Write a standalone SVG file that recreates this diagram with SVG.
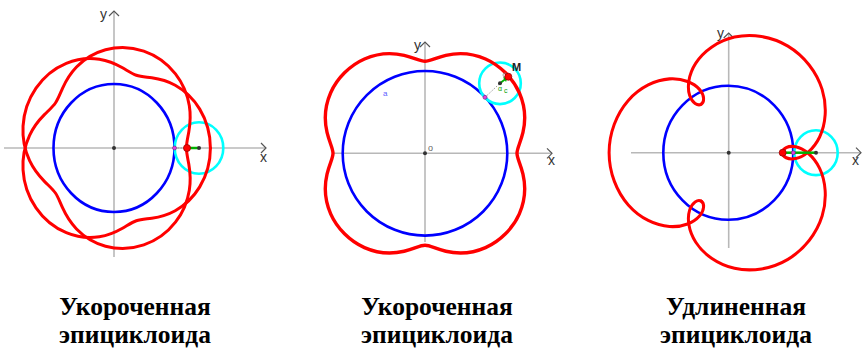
<svg xmlns="http://www.w3.org/2000/svg" width="863" height="350" viewBox="0 0 863 350">
<style>
.red{fill:none;stroke:#ff0000;stroke-width:3;stroke-linejoin:round;stroke-linecap:round}
.blue{fill:none;stroke:#0000ff;stroke-width:2.6}
.cyan{fill:none;stroke:#00ffff;stroke-width:2.6}
.axis{stroke:#b8b8b8;stroke-width:1.6}
.arr{fill:none;stroke:#555;stroke-width:1.2}
.lbl{font-family:"Liberation Sans",Arial,sans-serif;font-size:14px;fill:#333}
.dot{fill:#333}
.mag{fill:#e040e0;stroke:#702070;stroke-width:0.6}
.m{fill:#ff0000;stroke:#900;stroke-width:0.8}
.grn{stroke:#00b000;stroke-width:2.5}
.dash{stroke:#999;stroke-width:1;stroke-dasharray:1.5 1.5}
.title{font-family:"Liberation Serif","Times New Roman",serif;font-weight:bold;font-size:25.5px;fill:#000;text-anchor:middle}
</style>
<defs>
<path id="p1" class="red" d="M186.4,148 C186.4,143.31 187.63,138.5 188.82,131.73 C190.01,124.96 190.97,116.12 189.33,105.83 C187.69,95.54 183.3,83.92 175.46,73.84 C167.62,63.76 156.38,55.41 143.79,51.09 C131.2,46.77 117.47,46.53 105.52,49.82 C93.57,53.11 83.56,59.77 76.51,67.08 C69.46,74.39 65.32,82.13 62.51,88.35 C59.7,94.57 58.04,99.21 55.43,103.01 C52.82,106.81 49.15,109.93 44.42,114.67 C39.69,119.41 34,125.98 29.6,135.32 C25.2,144.66 22.31,156.78 23.04,169.81 C23.77,182.84 28.23,196.57 36.01,207.89 C43.79,219.21 54.78,227.94 66.27,232.7 C77.76,237.46 89.56,238.3 99.33,236.77 C109.1,235.24 116.76,231.53 122.49,228.24 C128.22,224.95 132.15,222.23 136.37,220.78 C140.59,219.33 145.3,219.08 151.76,218.18 C158.22,217.28 166.48,215.53 175.23,210.7 C183.98,205.87 193.07,197.87 199.72,186.87 C206.37,175.87 210.4,161.99 210.4,148"/>
<path id="p3" class="red" d="M54.2,0 C54.2,3.78 59.63,7.35 67.5,5.71 C75.37,4.07 85.29,-2.98 91.33,-15.2 C97.37,-27.43 99.16,-44.61 93.81,-61.31 C88.46,-78.01 75.98,-93.77 59.6,-103.23 C43.22,-112.69 23.32,-115.61 6.19,-111.9 C-10.94,-108.19 -24.93,-98.05 -32.5,-86.7 C-40.07,-75.36 -41.21,-63.23 -38.69,-55.6 C-36.17,-47.97 -30.37,-45.04 -27.1,-46.93"/>
</defs>

<g id="panel1">
  <line class="axis" x1="4" y1="148" x2="266" y2="148"/>
  <line class="axis" x1="114" y1="11" x2="114" y2="257"/>
  <polyline class="arr" points="261,143 266,148 261,153"/>
  <polyline class="arr" points="109,16 114,11 119,16"/>
  <text class="lbl" x="260" y="162">x</text>
  <text class="lbl" x="100" y="19">y</text>
  <ellipse class="blue" cx="114" cy="148" rx="60.5" ry="64"/>
  <ellipse class="cyan" cx="199" cy="148" rx="24.3" ry="25.7"/>
  <use href="#p1"/>
  <use href="#p1" transform="matrix(1 0 0 -1 0 296)"/>
  <line class="dash" x1="174.5" y1="148" x2="186.5" y2="148"/>
  <line class="grn" x1="187" y1="148" x2="199" y2="148"/>
  <circle class="dot" cx="114" cy="148" r="2"/>
  <circle class="dot" cx="199" cy="148" r="2"/>
  <circle class="mag" cx="174.5" cy="148" r="2"/>
  <circle class="m" cx="187" cy="148" r="3.5"/>
</g>

<g id="panel2">
  <line class="axis" x1="333" y1="153.3" x2="552" y2="153.3"/>
  <line class="axis" x1="425" y1="42" x2="425" y2="242"/>
  <polyline class="arr" points="547,148.3 552,153.3 547,158.3"/>
  <polyline class="arr" points="420,47 425,42 430,47"/>
  <text class="lbl" x="548" y="165">x</text>
  <text class="lbl" x="414" y="50">y</text>
  <text x="428" y="151" font-family="Liberation Sans,Arial,sans-serif" font-size="9" fill="#666">o</text>
  <text x="383" y="96" font-family="Liberation Sans,Arial,sans-serif" font-size="8" fill="#6060ff">a</text>
  <circle class="blue" cx="425" cy="153.3" r="82.3"/>
  <circle class="cyan" cx="500" cy="83.3" r="20.8"/>
  <g transform="translate(425,153.3)">
    <path class="red" style="stroke-width:3.4" d="M92,0 C92,-5.03 95.53,-10.57 97.96,-20.83 C100.39,-31.09 100.67,-46.05 94.33,-60.54 C87.99,-75.03 75.03,-87.99 60.54,-94.33 C46.05,-100.67 31.09,-100.39 20.83,-97.96 C10.57,-95.53 5.03,-92 0,-92 C-5.03,-92 -10.57,-95.53 -20.83,-97.96 C-31.09,-100.39 -46.05,-100.67 -60.54,-94.33 C-75.03,-87.99 -87.99,-75.03 -94.33,-60.54 C-100.67,-46.05 -100.39,-31.09 -97.96,-20.83 C-95.53,-10.57 -92,-5.03 -92,0 C-92,5.03 -95.53,10.57 -97.96,20.83 C-100.39,31.09 -100.67,46.05 -94.33,60.54 C-87.99,75.03 -75.03,87.99 -60.54,94.33 C-46.05,100.67 -31.09,100.39 -20.83,97.96 C-10.57,95.53 -5.03,92 0,92 C5.03,92 10.57,95.53 20.83,97.96 C31.09,100.39 46.05,100.67 60.54,94.33 C75.03,87.99 87.99,75.03 94.33,60.54 C100.67,46.05 100.39,31.09 97.96,20.83 C95.53,10.57 92,5.03 92,0 Z"/>
  </g>
  <line class="dash" x1="485" y1="97.3" x2="500" y2="83.3"/>
  <line stroke="#00b000" stroke-width="1.8" x1="500" y1="83.3" x2="507.5" y2="77.5"/>
  <polygon fill="#00b000" points="503,77.5 508,76.5 506,82"/>
  <circle cx="505" cy="75" r="2" fill="none" stroke="#888" stroke-width="0.8"/>
  <text x="498" y="91" font-family="Liberation Sans,Arial,sans-serif" font-size="7" fill="#00a000">α</text>
  <text x="504" y="93" font-family="Liberation Sans,Arial,sans-serif" font-size="7" fill="#00a000">c</text>
  <circle class="dot" cx="425" cy="153.3" r="2"/>
  <circle class="dot" cx="500" cy="83.3" r="2"/>
  <circle class="mag" cx="485" cy="97.3" r="2"/>
  <circle class="m" cx="508.3" cy="76.7" r="3.5"/>
  <text x="512" y="71" font-family="Liberation Sans,Arial,sans-serif" font-size="11" font-weight="bold" fill="#222">M</text>
</g>

<g id="panel3">
  <line class="axis" x1="631" y1="152.7" x2="861" y2="152.7"/>
  <line class="axis" x1="728.7" y1="33" x2="728.7" y2="248"/>
  <polyline class="arr" points="856,147.7 861,152.7 856,157.7"/>
  <polyline class="arr" points="723.7,38 728.7,33 733.7,38"/>
  <text class="lbl" x="852" y="165">x</text>
  <text class="lbl" x="717" y="38">y</text>
  <ellipse class="blue" cx="728.3" cy="152.7" rx="65" ry="67"/>
  <ellipse class="cyan" cx="816" cy="152.7" rx="21.7" ry="22.4"/>
  <g transform="translate(728.3,152.7) scale(1,1.033)">
    <use href="#p3"/>
    <use href="#p3" transform="rotate(-120)"/>
    <use href="#p3" transform="rotate(-240)"/>
  </g>
  <line class="grn" x1="783" y1="152.7" x2="815" y2="152.7"/>
  <circle class="dot" cx="728.7" cy="152.7" r="2"/>
  <circle class="dot" cx="816" cy="152.7" r="2"/>
  <circle class="mag" cx="793.3" cy="152.7" r="2"/>
  <circle class="m" cx="782.7" cy="152.7" r="3.5"/>
</g>

<g id="titles">
  <text class="title" x="135" y="315">Укороченная</text>
  <text class="title" x="135" y="343">эпициклоида</text>
  <text class="title" x="437" y="315">Укороченная</text>
  <text class="title" x="437" y="343">эпициклоида</text>
  <text class="title" x="736" y="315">Удлиненная</text>
  <text class="title" x="736" y="343">эпициклоида</text>
</g>
</svg>
